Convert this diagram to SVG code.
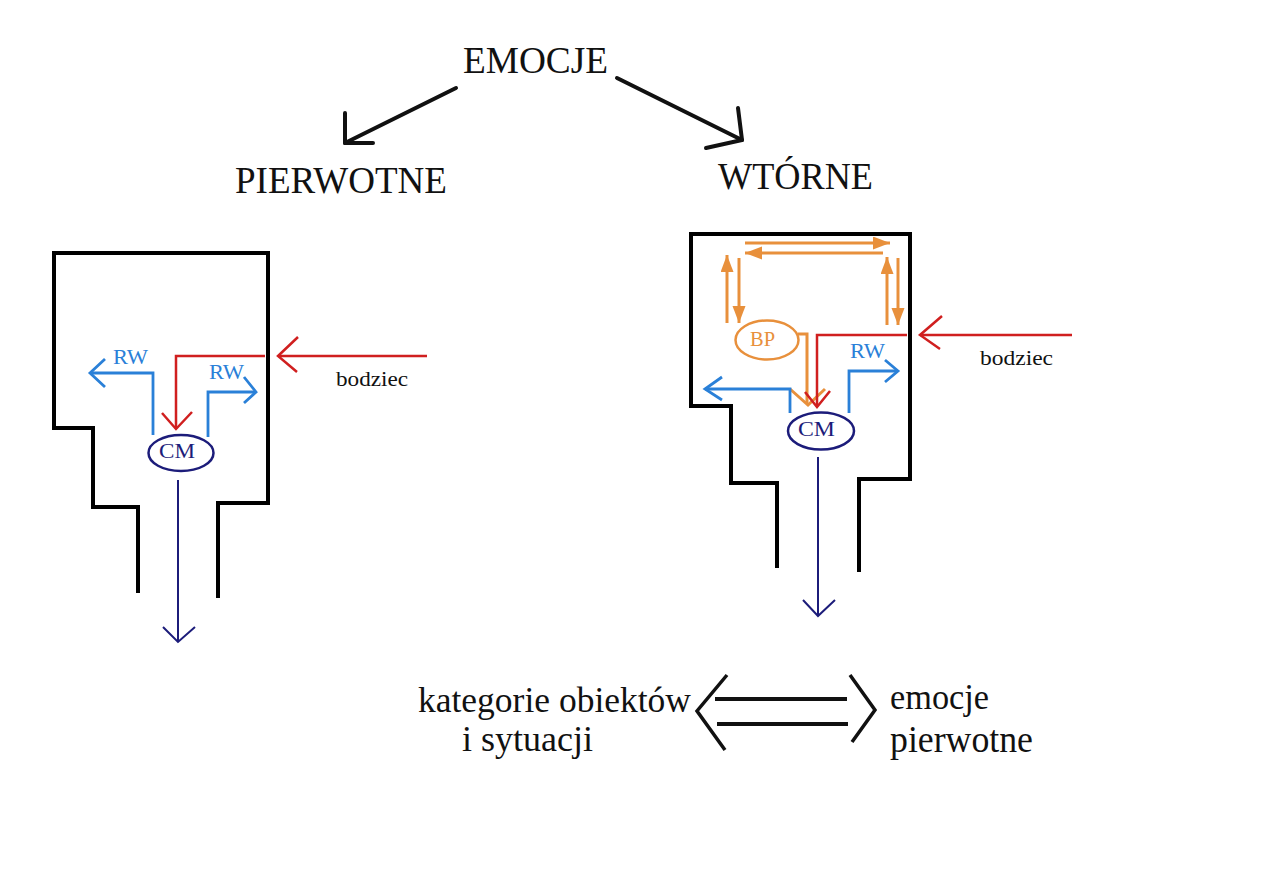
<svg xmlns="http://www.w3.org/2000/svg" width="1263" height="893" viewBox="0 0 1263 893">
<style>
  text { font-family: "Liberation Serif", "Times New Roman", serif; }
  .blk { fill: #111; }
  .wall { fill: none; stroke: #000; stroke-width: 4; stroke-linejoin: miter; }
  .tree { fill: none; stroke: #111; stroke-width: 4; stroke-linecap: round; stroke-linejoin: round; }
  .red { fill: none; stroke: #d01f1f; stroke-width: 2.5; }
  .blue { fill: none; stroke: #2a80d8; stroke-width: 2.8; }
  .navy { fill: none; stroke: #1c1c7a; stroke-width: 2; }
  .orng { fill: none; stroke: #e8903c; stroke-width: 3; }
  .dbl { fill: none; stroke: #111; stroke-width: 4; }
  .chev { fill: none; stroke: #111; stroke-width: 3.5; stroke-linejoin: miter; }
  .lbl-blue { fill: #2a80d8; font-size: 20px; }
  .lbl-navy { fill: #1c1c7a; font-size: 21px; }
  .lbl-orng { fill: #e8903c; font-size: 20px; }
  .lbl-blk { fill: #111; font-size: 20px; }
</style>
<defs>
  <marker id="oa" markerUnits="userSpaceOnUse" markerWidth="18" markerHeight="14" refX="17" refY="6.5" orient="auto">
    <path d="M0,0 L17,6.5 L0,13 z" fill="#e8903c"/>
  </marker>
</defs>
<rect width="1263" height="893" fill="#fff"/>

<g id="title">
  <text x="463" y="73" font-size="37" textLength="145" lengthAdjust="spacingAndGlyphs" class="blk">EMOCJE</text>
</g>
<g id="pierwotne">
  <text x="235" y="193" font-size="37" textLength="212" lengthAdjust="spacingAndGlyphs" class="blk">PIERWOTNE</text>
</g>
<g id="wtorne">
  <text x="718" y="189" font-size="38" textLength="155" lengthAdjust="spacingAndGlyphs" class="blk">WTÓRNE</text>
</g>

<g id="left-panel">
  <path class="wall" d="M138,593 V507 H93 V428 H54 V253 H268 V503 H218 V598"/>
</g>
<g id="left-cm">
  <ellipse cx="181" cy="453" rx="32.5" ry="18" fill="none" stroke="#1c1c7a" stroke-width="2.5"/>
  <text x="159" y="458" class="lbl-navy" textLength="36" lengthAdjust="spacingAndGlyphs">CM</text>
</g>
<g id="left-labels">
  <text x="113" y="364" class="lbl-blue" textLength="35" lengthAdjust="spacingAndGlyphs">RW</text>
  <text x="209" y="379" class="lbl-blue" textLength="35" lengthAdjust="spacingAndGlyphs">RW</text>
  <text x="336" y="386" class="lbl-blk" textLength="72" lengthAdjust="spacingAndGlyphs">bodziec</text>
</g>

<g id="right-panel">
  <path class="wall" d="M777,568 V483 H731 V406 H691 V234 H910 V479 H859 V572"/>
</g>
<g id="right-bp">
  <ellipse cx="767" cy="340" rx="31.5" ry="19.5" fill="none" stroke="#e8903c" stroke-width="2.5"/>
  <text x="750" y="346" class="lbl-orng" textLength="25" lengthAdjust="spacingAndGlyphs">BP</text>
</g>
<g id="right-cm">
  <ellipse cx="821" cy="431" rx="33" ry="18.5" fill="none" stroke="#1c1c7a" stroke-width="2.5"/>
  <text x="798" y="436" class="lbl-navy" textLength="37" lengthAdjust="spacingAndGlyphs">CM</text>
</g>
<g id="right-labels">
  <text x="850" y="358" class="lbl-blue" textLength="35" lengthAdjust="spacingAndGlyphs">RW</text>
  <text x="980" y="365" class="lbl-blk" textLength="73" lengthAdjust="spacingAndGlyphs">bodziec</text>
</g>

<g id="bottom-left">
  <text x="418" y="712" font-size="35" textLength="273" lengthAdjust="spacingAndGlyphs" class="blk">kategorie obiektów</text>
  <text x="462" y="751" font-size="35" textLength="131" lengthAdjust="spacingAndGlyphs" class="blk">i sytuacji</text>
</g>
<g id="bottom-right">
  <text x="890" y="709" font-size="36" textLength="99" lengthAdjust="spacingAndGlyphs" class="blk">emocje</text>
  <text x="890" y="752" font-size="37" textLength="143" lengthAdjust="spacingAndGlyphs" class="blk">pierwotne</text>
</g>

<g id="connectors">
  <!-- tree arrows -->
  <path class="tree" d="M456,88 L345,143"/>
  <path class="tree" d="M345,113 L345,143 L373,143"/>
  <path class="tree" d="M617,78 L742,140"/>
  <path class="tree" d="M738,108 L742,140 L706,148"/>

  <!-- left panel -->
  <path class="red" d="M427,356 H278"/>
  <path class="red" d="M298,337 L278,356 L297,372"/>
  <path class="red" d="M265,356 H176 V429"/>
  <path class="red" d="M162,413 L176,429 L192,412"/>
  <path class="blue" d="M153,435 V373 H90"/>
  <path class="blue" d="M105,359 L90,373 L105,387"/>
  <path class="blue" d="M208,437 V392 H256"/>
  <path class="blue" d="M244,377 L256,392 L244,403"/>
  <path class="navy" d="M178,480 V642"/>
  <path class="navy" d="M163,627 L178,642 L195,627"/>

  <!-- right panel orange loop -->
  <path class="orng" d="M745,243 H890" marker-end="url(#oa)"/>
  <path class="orng" d="M883,253 H745" marker-end="url(#oa)"/>
  <path class="orng" d="M727,323 V255" marker-end="url(#oa)"/>
  <path class="orng" d="M739,258 V323" marker-end="url(#oa)"/>
  <path class="orng" d="M887,325 V257" marker-end="url(#oa)"/>
  <path class="orng" d="M898,258 V325" marker-end="url(#oa)"/>
  <path class="orng" d="M798,334 H807 V404"/>
  <path class="orng" d="M790,389 L808,405 L825,389"/>

  <!-- right panel -->
  <path class="red" d="M1072,335 H920"/>
  <path class="red" d="M942,316 L920,335 L940,349"/>
  <path class="red" d="M907,335 H817 V407"/>
  <path class="red" d="M805,392 L817,407 L830,391"/>
  <path class="blue" d="M790,413 V389 H705"/>
  <path class="blue" d="M722,377 L705,389 L722,400"/>
  <path class="blue" d="M849,413 V371 H898"/>
  <path class="blue" d="M885,360 L898,371 L885,382"/>
  <path class="navy" d="M818,457 V616"/>
  <path class="navy" d="M803,600 L818,616 L835,600"/>

  <!-- bottom double arrow -->
  <path class="dbl" d="M715,699 H847"/>
  <path class="dbl" d="M717,724 H848"/>
  <path class="chev" d="M727,675 L697,711 L725,750"/>
  <path class="chev" d="M850,675 L875,710 L852,742"/>
</g>
</svg>
